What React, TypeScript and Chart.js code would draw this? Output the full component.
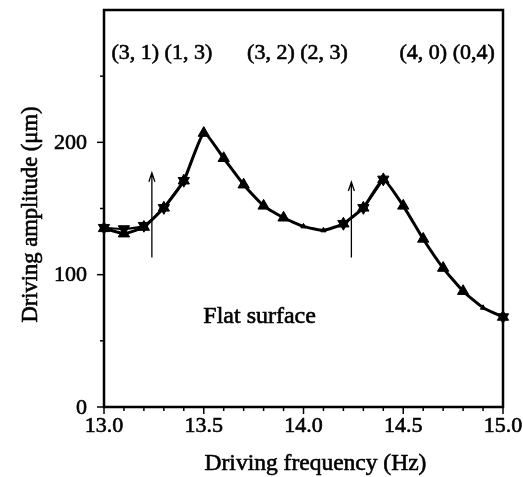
import React, { useEffect, useRef } from "react";
import { Chart, registerables } from "chart.js";

Chart.register(...registerables);

const freq = [13.0, 13.1, 13.2, 13.3, 13.4, 13.5, 13.6, 13.7, 13.8, 13.9, 14.0, 14.1, 14.2, 14.3, 14.4, 14.5, 14.6, 14.7, 14.8, 14.9, 15.0];
const ampUp = [135, 131, 136, 150.5, 171, 207, 188, 168, 152, 143, 136.5, 133.5, 138.5, 150.5, 172, 152, 127, 105, 87.5, 75, 68];
const ampDown = [135.5, 134.5, 137, 150.5, 171, null, null, null, null, null, null, null, 138.5, 150.5, 172, null, null, null, null, null, 68];

const modeLabels = ["(3, 1) (1, 3)", "(3, 2) (2, 3)", "(4, 0) (0,4)"];
const modeLabelFreq = [13.29, 13.97, 14.72];
const modeLabelAmp = 267;

const noteText = "Flat surface";
const noteFreq = 13.78;
const noteAmp = 68;

const arrowFreq = [13.24, 14.24];
const arrowFrom = [113, 113];
const arrowTo = [177, 170];

const xTitle = "Driving frequency (Hz)";
const yTitle = "Driving amplitude (\u03bcm)";

const FONT = "'Liberation Serif', 'DejaVu Serif', serif";
const smallUpIdx = [10, 11, 19];

function heavyText(ctx: any, s: string, x: number, y: number) {
  ctx.fillText(s, x, y);
  ctx.strokeText(s, x, y);
}

const overlay = {
  id: "overlay",
  afterDraw(chart: any) {
    const { ctx, chartArea: a, scales } = chart;
    const xs = scales.x;
    const ys = scales.y;
    ctx.save();
    ctx.strokeStyle = "#000";
    ctx.fillStyle = "#000";
    // frame
    ctx.lineWidth = 2.5;
    ctx.strokeRect(a.left, a.top, a.right - a.left, a.bottom - a.top);
    // ticks
    ctx.lineWidth = 1.5;
    xs.ticks.forEach((t: any) => {
      const px = xs.getPixelForValue(t.value);
      const major = t.label !== "";
      ctx.beginPath();
      ctx.moveTo(px, a.bottom);
      ctx.lineTo(px, a.bottom + (major ? 7 : 4));
      ctx.stroke();
    });
    ys.ticks.forEach((t: any) => {
      if (t.value >= ys.max) return;
      const py = ys.getPixelForValue(t.value);
      const major = t.label !== "";
      ctx.beginPath();
      ctx.moveTo(a.left, py);
      ctx.lineTo(a.left - (major ? 7 : 4), py);
      ctx.stroke();
    });
    // tick labels
    ctx.lineWidth = 0.6;
    ctx.font = `22px ${FONT}`;
    ctx.textAlign = "center";
    ctx.textBaseline = "middle";
    xs.ticks.forEach((t: any) => {
      if (t.label === "") return;
      heavyText(ctx, t.label, xs.getPixelForValue(t.value), a.bottom + 19);
    });
    ctx.textAlign = "right";
    ys.ticks.forEach((t: any) => {
      if (t.label === "") return;
      heavyText(ctx, t.label, a.left - 17, ys.getPixelForValue(t.value) + 1);
    });
    // titles
    ctx.textAlign = "center";
    ctx.font = `23.5px ${FONT}`;
    heavyText(ctx, xTitle, (a.left + a.right) / 2 + 12, 464);
    ctx.save();
    ctx.font = `22.5px ${FONT}`;
    ctx.translate(31, (a.top + a.bottom) / 2 + 6);
    ctx.rotate(-Math.PI / 2);
    heavyText(ctx, yTitle, 0, 0);
    ctx.restore();
    // mode labels
    ctx.font = `22px ${FONT}`;
    modeLabels.forEach((s, i) => {
      heavyText(ctx, s, xs.getPixelForValue(modeLabelFreq[i]), ys.getPixelForValue(modeLabelAmp));
    });
    ctx.font = `24px ${FONT}`;
    heavyText(ctx, noteText, xs.getPixelForValue(noteFreq), ys.getPixelForValue(noteAmp));
    // arrows
    ctx.lineWidth = 1.3;
    arrowFreq.forEach((f, i) => {
      const px = xs.getPixelForValue(f);
      const y0 = ys.getPixelForValue(arrowFrom[i]);
      const y1 = ys.getPixelForValue(arrowTo[i]);
      ctx.beginPath();
      ctx.moveTo(px, y0);
      ctx.lineTo(px, y1);
      ctx.moveTo(px - 3, y1 + 9);
      ctx.lineTo(px, y1);
      ctx.lineTo(px + 3, y1 + 9);
      ctx.stroke();
    });
    ctx.restore();
  },
};

export default function App() {
  const ref = useRef<HTMLCanvasElement>(null);
  useEffect(() => {
    if (!ref.current) return;
    const up = freq.map((f, i) => ({ x: f, y: ampUp[i] }));
    const down = freq.map((f, i) => ({ x: f, y: ampDown[i] }));
    const chart = new Chart(ref.current, {
      type: "line",
      data: {
        datasets: [
          {
            data: up,
            borderColor: "#000",
            backgroundColor: "#000",
            borderWidth: 3,
            tension: 0.15,
            pointStyle: "triangle",
            pointRadius: (c: any) => (smallUpIdx.includes(c.dataIndex) ? 3 : 6.5),
            pointBorderWidth: 1,
            clip: false as any,
          },
          {
            data: down,
            borderColor: "#000",
            backgroundColor: "#000",
            borderWidth: 2.2,
            tension: 0.15,
            pointStyle: "triangle",
            rotation: 180,
            pointRadius: 6.5,
            pointBorderWidth: 1,
            spanGaps: false,
            clip: false as any,
          },
        ],
      },
      options: {
        animation: false,
        responsive: false,
        layout: { padding: { left: 0, right: 20, top: 10, bottom: 0 } },
        plugins: { legend: { display: false }, tooltip: { enabled: false } },
        scales: {
          x: {
            type: "linear",
            min: 13,
            max: 15,
            grid: { display: false, drawTicks: false },
            border: { display: false },
            afterFit: (s: any) => {
              s.height = 70;
            },
            ticks: {
              display: false,
              stepSize: 0.1,
              autoSkip: false,
              callback: (v: any) => {
                const n = Number(v);
                return Math.abs(n * 2 - Math.round(n * 2)) < 1e-6 ? n.toFixed(1) : "";
              },
            },
          },
          y: {
            min: 0,
            max: 300,
            grid: { display: false, drawTicks: false },
            border: { display: false },
            afterFit: (s: any) => {
              s.width = 104;
            },
            ticks: {
              display: false,
              stepSize: 50,
              autoSkip: false,
              callback: (v: any) => {
                const n = Number(v);
                return n % 100 === 0 && n < 300 ? String(n) : "";
              },
            },
          },
        },
      },
      plugins: [overlay],
    });
    return () => chart.destroy();
  }, []);
  return (
    <div style={{ position: "absolute", left: 0, top: 0 }}>
      <canvas ref={ref} width={523} height={477} style={{ display: "block" }} />
    </div>
  );
}
